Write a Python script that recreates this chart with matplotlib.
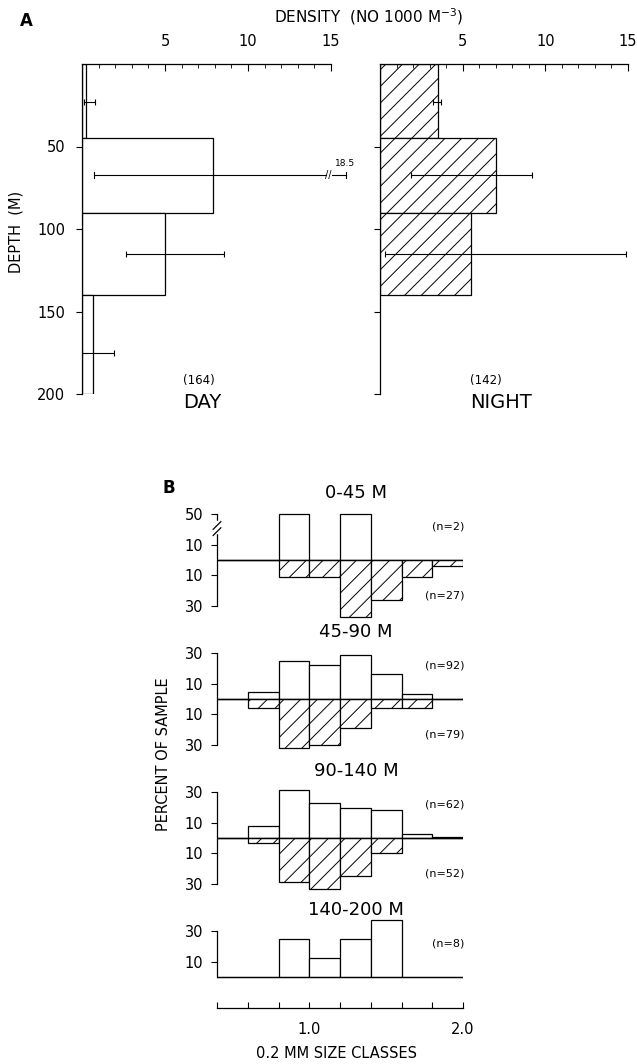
import numpy as np
import matplotlib
matplotlib.use("Agg")
import matplotlib.pyplot as plt

plt.rcParams["font.family"] = "DejaVu Sans"
plt.rcParams["hatch.linewidth"] = 0.7

W, H = 637, 1064

# -----------------------------
# A. density by depth stratum (no. 1000 m^-3)
# -----------------------------
depth_edges = [0, 45, 90, 140, 200]
day_density = [0.25, 7.9, 5.0, 0.65]
night_density = [3.5, 7.0, 5.5]

day_err_depth = [23, 67, 115, 175]
day_err_lo = [0.1, 0.75, 2.65, 0.0]
day_err_hi = [0.8, 18.5, 8.55, 1.9]
night_err_depth = [23, 67, 115]
night_err_lo = [3.2, 1.9, 0.3]
night_err_hi = [3.7, 9.2, 14.9]

day_n = 164
night_n = 142

# -----------------------------
# B. size-class percentages (0.2 mm classes, 0.4 - 2.0)
# -----------------------------
size_edges = [0.4, 0.6, 0.8, 1.0, 1.2, 1.4, 1.6, 1.8, 2.0]
strata = ["0-45 M", "45-90 M", "90-140 M", "140-200 M"]
day_pct = [
    [0, 0, 50, 0, 50, 0, 0, 0],
    [0, 4.5, 25, 22.5, 29, 16.5, 3, 0],
    [0, 8, 31, 23, 19.5, 18.5, 2.5, 0.5],
    [0, 0, 25, 12.5, 25, 37.5, 0, 0],
]
night_pct = [
    [0, 0, 11.1, 11.1, 37.0, 25.9, 11.1, 3.7],
    [0, 6, 32, 30, 19, 6, 6, 0],
    [0, 3.3, 28.7, 33, 25, 9.6, 0, 0],
    None,
]
day_ns = [2, 92, 62, 8]
night_ns = [27, 79, 52, None]


def px_axes(x0, y0, x1, y1):
    return fig.add_axes([x0 / W, 1 - y1 / H, (x1 - x0) / W, (y1 - y0) / H])


def fig_text(x, y, s, **kw):
    fig.text(x / W, 1 - y / H, s, **kw)


fig = plt.figure(figsize=(W / 100, H / 100), dpi=100)

# -----------------------------
# Panel A
# -----------------------------
def density_panel(ax, values, err_depth, err_lo, err_hi, hatch, show_labels):
    edges = np.array(depth_edges[:len(values) + 1])
    ax.barh(edges[:-1], values, height=np.diff(edges), left=0, align="edge",
            facecolor="white", edgecolor="black", linewidth=0.9, hatch=hatch)
    xmax = 15
    for d, a, b in zip(err_depth, err_lo, err_hi):
        if b <= xmax:
            ax.errorbar((a + b) / 2, d, xerr=(b - a) / 2, fmt="none", ecolor="black",
                        elinewidth=0.8, capsize=2.5, capthick=0.8)
        else:
            # bar runs off the scale: break it and write the value
            ax.plot([a, xmax - 0.3], [d, d], color="black", lw=0.8, clip_on=False)
            ax.plot([a, a], [d - 1.8, d + 1.8], color="black", lw=0.8, clip_on=False)
            ax.text(xmax - 0.15, d, "//", ha="center", va="center", fontsize=7, clip_on=False)
            ax.plot([xmax + 0.05, xmax + 0.9], [d, d], color="black", lw=0.8, clip_on=False)
            ax.plot([xmax + 0.9, xmax + 0.9], [d - 1.8, d + 1.8], color="black", lw=0.8, clip_on=False)
            ax.text(xmax + 0.85, d - 4, f"{b}", ha="center", va="bottom", fontsize=6.5)
    ax.set_xlim(0, 15)
    ax.set_ylim(200, 0)
    for s in ["right", "bottom"]:
        ax.spines[s].set_visible(False)
    for s in ["top", "left"]:
        ax.spines[s].set_linewidth(0.9)
    ax.xaxis.tick_top()
    ax.set_xticks([5, 10, 15])
    ax.set_xticks(np.arange(0, 16, 1), minor=True)
    ax.tick_params(axis="x", which="major", direction="in", length=5, pad=11, labelsize=10.5)
    ax.tick_params(axis="x", which="minor", direction="in", length=3)
    ax.set_yticks([50, 100, 150, 200])
    ax.tick_params(axis="y", direction="out", length=4, pad=8, labelsize=10.5,
                   labelleft=show_labels)


ax_day = px_axes(82, 64, 331, 394)
density_panel(ax_day, day_density, day_err_depth, day_err_lo, day_err_hi, None, True)
ax_night = px_axes(380, 64, 628, 394)
density_panel(ax_night, night_density, night_err_depth, night_err_lo, night_err_hi, "//", False)

fig_text(26, 21, "A", fontsize=12, fontweight="bold", ha="center", va="center")
fig_text(369, 17, "DENSITY  (NO 1000 M$^{-3}$)", fontsize=11, ha="center", va="center")
fig_text(16, 232, "DEPTH  (M)", fontsize=10.5, rotation=90, ha="center", va="center")
fig_text(183, 380, f"({day_n})", fontsize=8.5, ha="left", va="center")
fig_text(183, 403, "DAY", fontsize=14, ha="left", va="center")
fig_text(470, 380, f"({night_n})", fontsize=8.5, ha="left", va="center")
fig_text(470, 403, "NIGHT", fontsize=14, ha="left", va="center")

# -----------------------------
# Panel B
# -----------------------------
baselines = [560, 699, 838, 977]
scale = 46 / 30.0  # px per percent
half = 42


def squash(v):
    # upper part of the first panel is compressed (axis break above 20 %)
    v = np.asarray(v, dtype=float)
    return np.where(v > 20, 20 + (v - 20) / 3.0, v)


for i, base in enumerate(baselines):
    ax = px_axes(217, base - half * scale, 463, base + half * scale)
    ax.patch.set_alpha(0)
    day = np.array(day_pct[i], dtype=float)
    if i == 0:
        day = squash(day)
    ax.bar(size_edges[:-1], day, width=0.2, align="edge", facecolor="white",
           edgecolor="black", linewidth=0.9)
    if night_pct[i] is not None:
        ax.bar(size_edges[:-1], -np.array(night_pct[i]), width=0.2, align="edge",
               facecolor="white", edgecolor="black", linewidth=0.9, hatch="//")
    ax.axhline(0, color="black", lw=0.9)
    ax.set_xlim(0.4, 2.0)
    ax.set_ylim(-half, half)
    for s in ["top", "right", "bottom"]:
        ax.spines[s].set_visible(False)
    ax.spines["left"].set_linewidth(0.9)
    ax.set_xticks([])
    if i == 0:
        ax.spines["left"].set_bounds(-30, 30)
        ax.set_yticks([-30, -10, 10, float(squash(50))])
        ax.set_yticklabels(["30", "10", "10", "50"])
        # axis break marks
        ax.plot([0.4, 0.4], [18, 25], color="white", lw=2.5, clip_on=False, zorder=5)
        for yb in [18.5, 22.5]:
            ax.plot([0.375, 0.425], [yb - 2.5, yb + 2.5], color="black", lw=0.9,
                    clip_on=False, zorder=6)
    elif night_pct[i] is None:
        ax.spines["left"].set_bounds(0, 30)
        ax.set_yticks([10, 30])
        ax.set_yticklabels(["10", "30"])
    else:
        ax.spines["left"].set_bounds(-30, 30)
        ax.set_yticks([-30, -10, 10, 30])
        ax.set_yticklabels(["30", "10", "10", "30"])
    ax.tick_params(axis="y", direction="out", length=4, pad=6, labelsize=10.5)

    ax.text(2.01, 22, f"(n={day_ns[i]})", ha="right", va="center", fontsize=8)
    if night_ns[i] is not None:
        ax.text(2.01, -23, f"(n={night_ns[i]})", ha="right", va="center", fontsize=8)
    fig_text(356, base - 67, strata[i], fontsize=13, ha="center", va="center")

# shared size axis
ax_x = px_axes(217, 990, 463, 1008)
ax_x.set_xlim(0.4, 2.0)
ax_x.set_yticks([])
for s in ["top", "right", "left"]:
    ax_x.spines[s].set_visible(False)
ax_x.spines["bottom"].set_linewidth(0.9)
xt = np.round(np.arange(0.4, 2.01, 0.2), 1)
ax_x.set_xticks(xt)
ax_x.set_xticklabels([f"{t:.1f}" if t in (1.0, 2.0) else "" for t in xt])
ax_x.tick_params(axis="x", direction="in", length=4, pad=10, labelsize=10.5)
ax_x.patch.set_alpha(0)

fig_text(169, 488, "B", fontsize=12, fontweight="bold", ha="center", va="center")
fig_text(164, 754, "PERCENT OF SAMPLE", fontsize=10.5, rotation=90, ha="center", va="center")
fig_text(337, 1053, "0.2 MM SIZE CLASSES", fontsize=10.5, ha="center", va="center")

plt.savefig("out.png", dpi=100)
plt.close()
